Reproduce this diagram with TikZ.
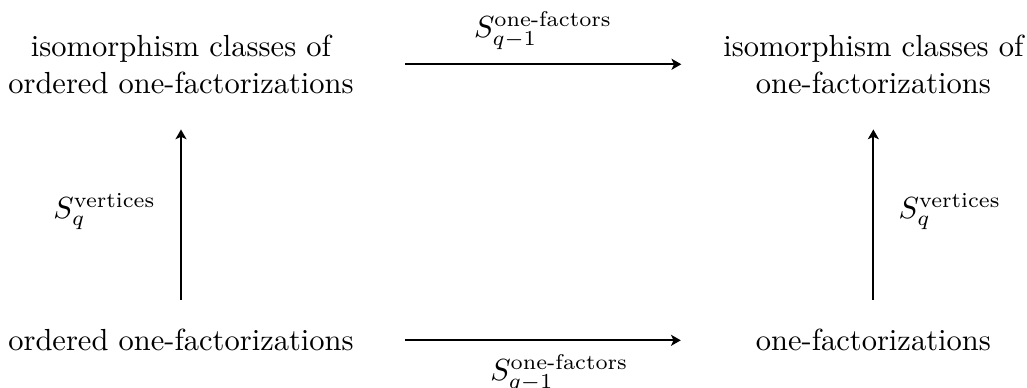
\documentclass[tikz,border=0pt]{standalone}
\usepackage{amsmath}
\usepackage{tikz}
\usetikzlibrary{arrows.meta, positioning, calc}
\tikzset{
  objnode/.style={align=center, inner sep=3.33pt},
  maparrow/.style={-{Stealth[length=3.2pt, width=3.6pt, inset=0.8pt]}, semithick, color=black},
  maplabel/.style={inner sep=3pt}
}
\begin{document}
\begin{tikzpicture}
  \useasboundingbox (0,0) rectangle (11.83,-4.46);

  \node[objnode] (isoOrd) at (2.085,-0.74) {isomorphism classes of\\ordered one-factorizations};
  \node[objnode] (isoOne) at (10.06,-0.74) {isomorphism classes of\\one-factorizations};
  \node[objnode] (ordOne) at (2.085,-3.92) {ordered one-factorizations};
  \node[objnode] (oneFac) at (10.06,-3.92) {one-factorizations};

  % forget the order of the one-factors
  \draw[maparrow, shorten <=0.47cm, shorten >=0.36cm] (isoOrd.east) -- (isoOne.west)
    node[midway, above=1.6pt, xshift=1.5pt, maplabel] {$S_{q-1}^{\text{one-factors}}$};
  \draw[maparrow, shorten <=0.47cm, shorten >=0.74cm] (ordOne.east) -- (oneFac.west)
    node[midway, below=1.4pt, xshift=1.5pt, maplabel] {$S_{q-1}^{\text{one-factors}}$};

  % quotient by relabelling vertices
  \draw[maparrow, shorten <=0.22cm, shorten >=0.29cm] (ordOne.north) -- (isoOrd.south)
    node[midway, left=5pt, maplabel] {$S_q^{\text{vertices}}$};
  \draw[maparrow, shorten <=0.22cm, shorten >=0.29cm] (oneFac.north) -- (isoOne.south)
    node[midway, right=5pt, maplabel] {$S_q^{\text{vertices}}$};
\end{tikzpicture}
\end{document}
